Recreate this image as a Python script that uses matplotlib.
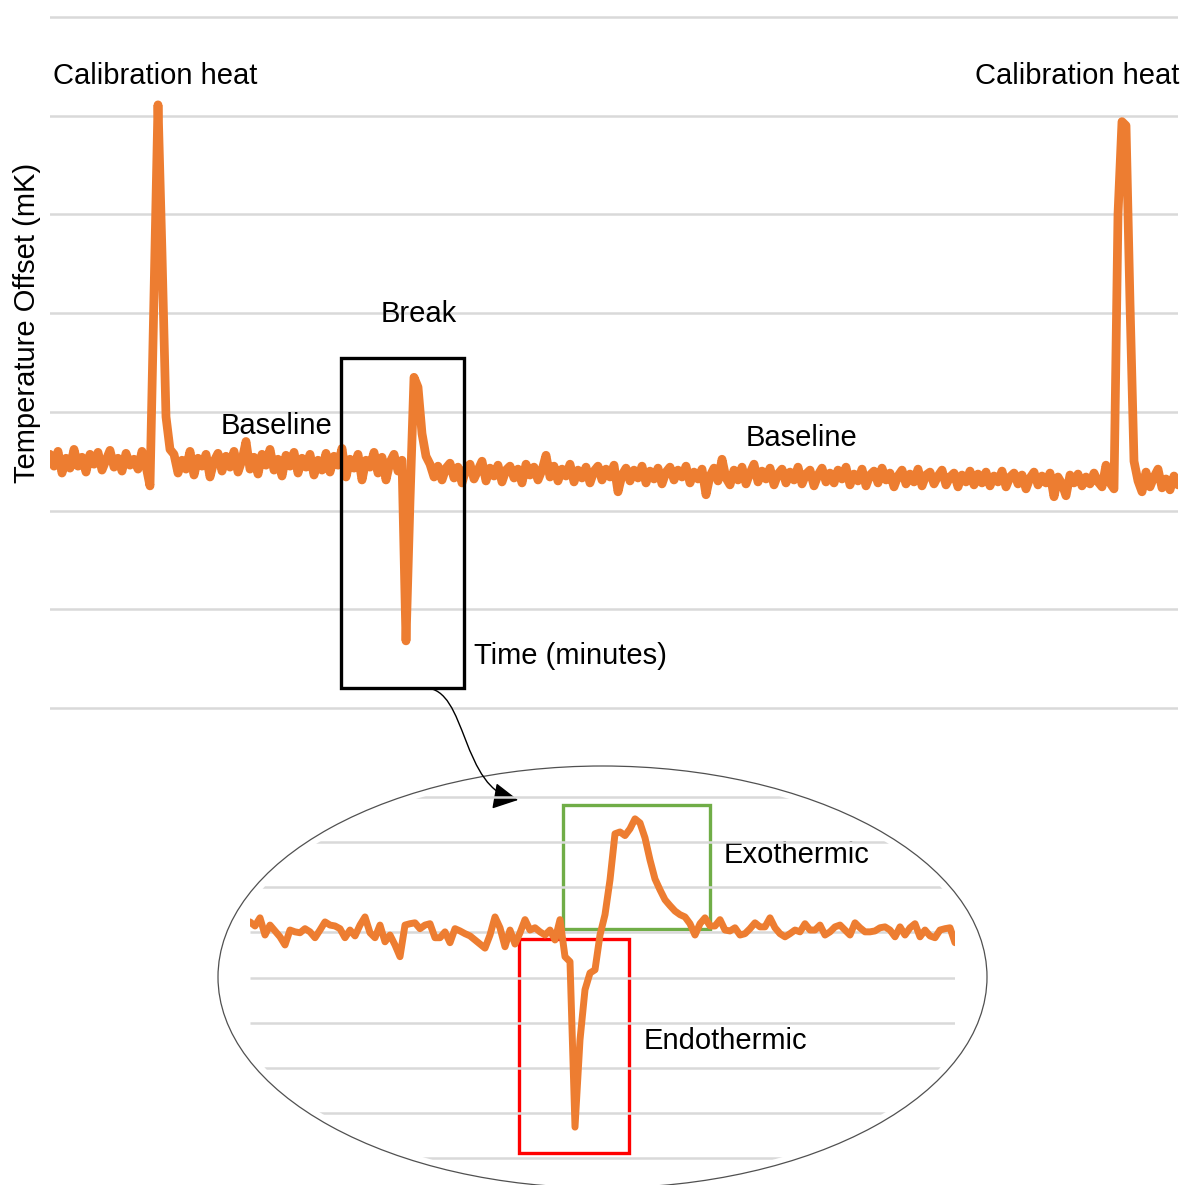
import matplotlib
matplotlib.use("Agg")
import matplotlib.pyplot as plt
import numpy as np
from matplotlib.patches import Rectangle, Ellipse, FancyArrowPatch
from matplotlib.path import Path

plt.rcParams['font.family'] = ['Liberation Sans', 'DejaVu Sans']

# ---------------- data ----------------
# Main trace: temperature offset (grid units) sampled at equal time steps
main_temp = [
    # baseline before first calibration heat
    2.57, 2.45, 2.60, 2.38, 2.53, 2.43, 2.62, 2.45, 2.54, 2.39,
    2.57, 2.47, 2.59, 2.41, 2.51, 2.61, 2.44, 2.53, 2.40, 2.58,
    2.46, 2.52, 2.42, 2.60, 2.45, 2.25,
    # calibration heat 1
    4.20, 6.11, 4.60, 2.95, 2.62,
    # baseline
    2.57, 2.38, 2.51, 2.42, 2.60, 2.36, 2.53, 2.45, 2.57, 2.34,
    2.50, 2.58, 2.40, 2.55, 2.44, 2.60, 2.39, 2.51, 2.70, 2.42,
    2.54, 2.37, 2.57, 2.46, 2.62, 2.41, 2.52, 2.35, 2.56, 2.45,
    2.59, 2.38, 2.53, 2.44, 2.57, 2.36, 2.51, 2.41, 2.58, 2.39,
    2.55, 2.46, 2.63, 2.34, 2.52, 2.43, 2.57, 2.31, 2.51, 2.44,
    2.59, 2.38, 2.54, 2.31, 2.49, 2.57, 2.40, 2.51,
    # break
    0.68, 2.10, 3.35, 3.25, 2.78, 2.55,
    # baseline
    2.47, 2.34, 2.45, 2.31, 2.43, 2.48, 2.33, 2.44, 2.28, 2.42,
    2.47, 2.32, 2.41, 2.50, 2.30, 2.43, 2.35, 2.46, 2.29, 2.41,
    2.45, 2.33, 2.42, 2.28, 2.47, 2.36, 2.44, 2.31, 2.41, 2.56,
    2.34, 2.45, 2.30, 2.42, 2.35, 2.47, 2.29, 2.41, 2.33, 2.44,
    2.28, 2.40, 2.45, 2.31, 2.42, 2.34, 2.46, 2.19, 2.36, 2.43,
    2.30, 2.41, 2.33, 2.45, 2.28, 2.40, 2.32, 2.43, 2.27, 2.39,
    2.44, 2.31, 2.41, 2.34, 2.45, 2.28, 2.39, 2.32, 2.42, 2.16,
    2.35, 2.43, 2.30, 2.52, 2.33, 2.26, 2.41, 2.31, 2.44, 2.27,
    2.38, 2.47, 2.29, 2.40, 2.32, 2.43, 2.26, 2.37, 2.42, 2.28,
    2.39, 2.31, 2.44, 2.27, 2.37, 2.41, 2.25, 2.36, 2.43, 2.29,
    2.38, 2.28, 2.41, 2.32, 2.44, 2.26, 2.37, 2.30, 2.42, 2.25,
    2.36, 2.40, 2.28, 2.43, 2.31, 2.38, 2.24, 2.35, 2.41, 2.27,
    2.37, 2.29, 2.42, 2.25, 2.36, 2.39, 2.27, 2.35, 2.41, 2.26,
    2.34, 2.38, 2.24, 2.36, 2.29, 2.40, 2.26, 2.37, 2.28, 2.39,
    2.25, 2.35, 2.29, 2.40, 2.24, 2.34, 2.38, 2.27, 2.36, 2.22,
    2.33, 2.39, 2.26, 2.35, 2.28, 2.38, 2.14, 2.34, 2.27, 2.15,
    2.36, 2.28, 2.37, 2.25, 2.34, 2.27, 2.38, 2.29, 2.24, 2.46,
    2.28,
    # calibration heat 2
    2.22, 5.00, 5.94, 5.90, 4.10, 2.50,
    # baseline
    2.30, 2.19, 2.39, 2.24, 2.34, 2.42, 2.23, 2.32, 2.21, 2.35, 2.26,
]
main_grid = [0, 1, 2, 3, 4, 5, 6, 7]

# Zoomed trace around the break
zoom_temp = [
    5.23, 5.14, 5.32, 4.94, 5.16, 5.03, 4.90, 4.72, 5.05, 5.01,
    4.99, 5.08, 5.01, 4.88, 5.05, 5.23, 5.16, 5.14, 5.08, 4.88,
    5.05, 4.92, 5.16, 5.34, 4.99, 4.88, 5.16, 4.79, 4.94, 4.72,
    4.46, 5.16, 5.19, 5.21, 5.08, 5.16, 5.19, 4.88, 4.88, 5.01,
    4.77, 5.08, 5.03, 4.97, 4.92, 4.83, 4.74, 4.65, 4.94, 5.34,
    5.10, 4.68, 5.05, 4.74, 4.99, 5.28, 5.05, 5.10, 5.01, 4.94,
    5.05, 4.83, 5.28, 4.46, 4.35,
    # endothermic dip
    0.69, 2.62, 3.73, 4.10, 4.17, 4.94, 5.39,
    # exothermic peak
    6.16, 7.18, 7.22, 7.14, 7.29, 7.51, 7.42, 7.09, 6.60, 6.18,
    5.94, 5.72, 5.59, 5.47, 5.39, 5.34, 5.19, 4.94,
    # baseline
    5.19, 5.32, 5.14, 5.14, 5.28, 5.05, 5.03, 5.10, 4.94, 4.97,
    5.08, 5.21, 5.12, 5.12, 5.32, 5.10, 4.97, 4.90, 4.97, 5.05,
    5.01, 5.19, 5.05, 5.05, 5.16, 4.94, 5.01, 5.12, 5.16, 5.05,
    4.94, 5.21, 5.10, 5.01, 5.01, 5.03, 5.10, 5.12, 5.05, 4.90,
    5.12, 4.94, 5.10, 5.19, 4.90, 5.05, 4.92, 4.88, 5.05, 5.08,
    5.10, 4.77,
]
zoom_grid = [0, 1, 2, 3, 4, 5, 6, 7, 8]

ORANGE = '#ED7D31'
GRID = '#D9D9D9'
W, H = 1186, 1185

fig = plt.figure(figsize=(W / 100, H / 100), dpi=100)


def px_axes(x0, y0, x1, y1):
    """axes from pixel box (top-left origin)"""
    return fig.add_axes([x0 / W, 1 - y1 / H, (x1 - x0) / W, (y1 - y0) / H])


# ---------------- main chart ----------------
unit = (708 - 17) / 7.0
pad = 0.1
ax = px_axes(50, 17 - pad * unit, 1178, 708 + pad * unit)
t_main = np.arange(len(main_temp))
ax.plot(t_main, main_temp, color=ORANGE, lw=6.3, solid_joinstyle='round',
        solid_capstyle='round', zorder=3)
ax.set_xlim(0, len(main_temp) - 1)
ax.set_ylim(-pad, 7 + pad)
ax.set_yticks(main_grid)
ax.set_xticks([])
ax.grid(axis='y', color=GRID, lw=1.8, zorder=0)
ax.tick_params(length=0, labelleft=False, labelbottom=False)
for s in ax.spines.values():
    s.set_visible(False)
ax.patch.set_alpha(0)

# ---------------- overlay (annotations in pixel coords) ----------------
ov = fig.add_axes([0, 0, 1, 1])
ov.set_xlim(0, W)
ov.set_ylim(H, 0)
ov.axis('off')
ov.patch.set_alpha(0)

# ---------------- zoom inset ----------------
zunit = (1158.3 - 796.7) / 8.0
zpad = 0.3
az = px_axes(250, 796.7 - zpad * zunit, 955, 1158.3 + zpad * zunit)
t_zoom = np.arange(len(zoom_temp))
az.set_xlim(0, len(zoom_temp) - 1)
az.set_ylim(-zpad, 8 + zpad)
az.axis('off')
az.patch.set_alpha(0)
clip_ell = Ellipse((602.5, 977), 769 - 16, 422 - 12, transform=ov.transData)
gl = az.hlines(zoom_grid, 0, len(zoom_temp) - 1, colors=GRID, lw=1.8, zorder=0)
gl.set_clip_path(clip_ell)
az.plot(t_zoom, zoom_temp, color=ORANGE, lw=5.0, solid_joinstyle='round',
        solid_capstyle='round', zorder=3)

# ellipse outline
ov.add_patch(Ellipse((602.5, 977), 769, 422, fill=False, ec='#505050', lw=0.9))

# boxes
ov.add_patch(Rectangle((341, 358), 123, 330, fill=False, ec='black', lw=2.4, zorder=5))
ov.add_patch(Rectangle((563, 805), 147, 124, fill=False, ec='#70AD47', lw=2.4, zorder=5))
ov.add_patch(Rectangle((519, 939), 110, 214, fill=False, ec='#FF0000', lw=2.4, zorder=5))

# curved arrow
arrow_path = Path([(425, 688), (468, 688), (460, 790), (518, 800)],
                  [Path.MOVETO, Path.CURVE4, Path.CURVE4, Path.CURVE4])
ov.add_patch(FancyArrowPatch(path=arrow_path, arrowstyle='-|>,head_length=0.6,head_width=0.32',
                             mutation_scale=26, color='black', lw=1.0, zorder=6))

# texts
fs = 21
ov.text(53, 84, 'Calibration heat', fontsize=fs, ha='left', va='baseline')
ov.text(975, 84, 'Calibration heat', fontsize=fs, ha='left', va='baseline')
ov.text(381, 322, 'Break', fontsize=fs, ha='left', va='baseline')
ov.text(221, 434, 'Baseline', fontsize=fs, ha='left', va='baseline')
ov.text(746, 446, 'Baseline', fontsize=fs, ha='left', va='baseline')
ov.text(474, 664, 'Time (minutes)', fontsize=fs, ha='left', va='baseline')
ov.text(724, 863, 'Exothermic', fontsize=fs, ha='left', va='baseline')
ov.text(644, 1049, 'Endothermic', fontsize=fs, ha='left', va='baseline')
ov.text(27, 323, 'Temperature Offset (mK)', fontsize=fs, ha='center', va='center',
        rotation=90)

fig.savefig('out.png', dpi=100)
